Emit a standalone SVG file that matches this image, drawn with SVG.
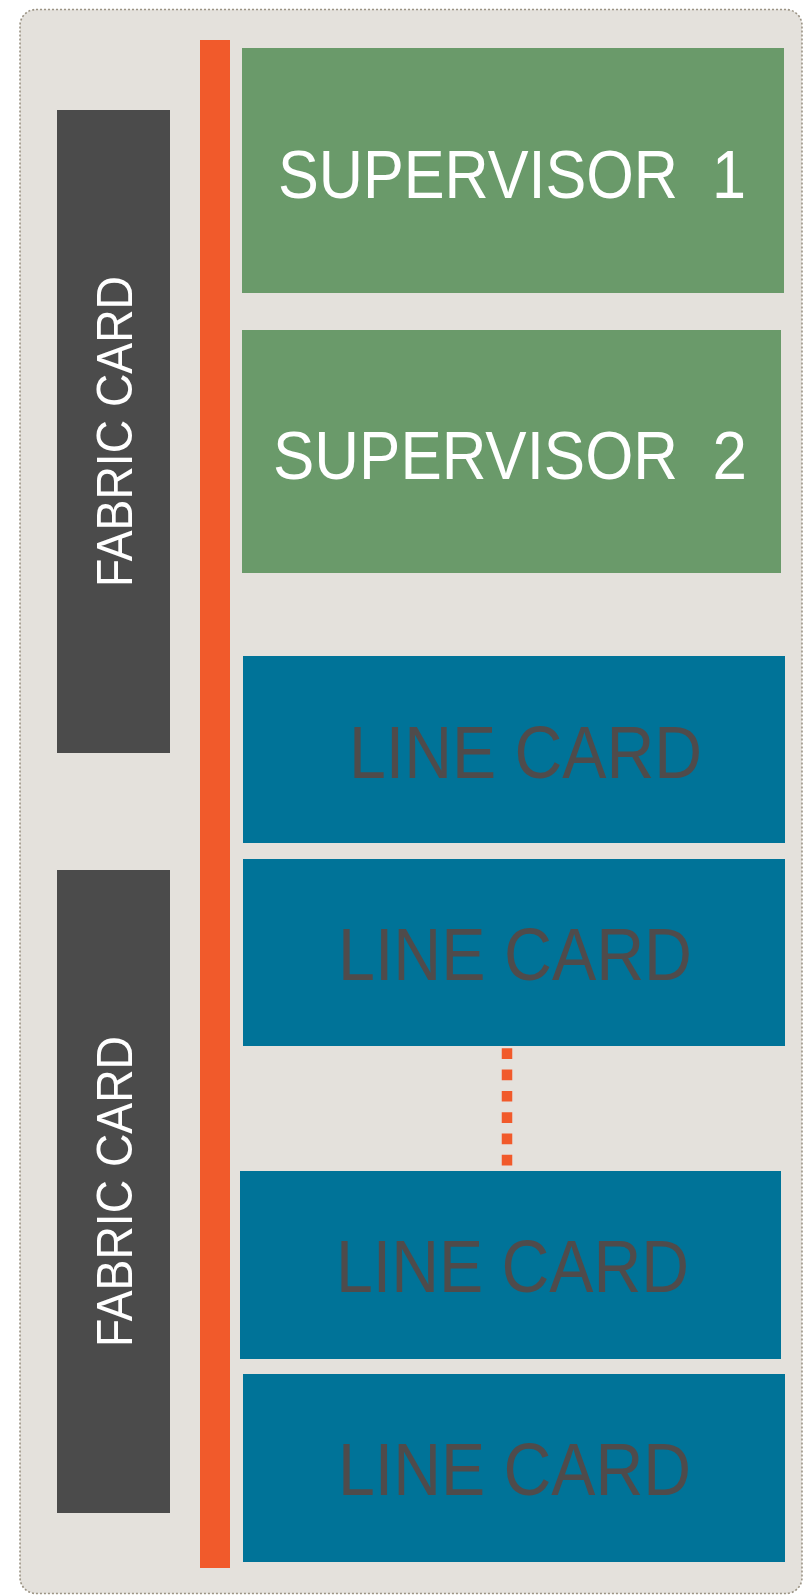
<svg xmlns="http://www.w3.org/2000/svg" width="805" height="1596" viewBox="0 0 805 1596">
  <style>
    .chassis { fill: #e4e1dc; stroke: #9b9384; stroke-width: 1.6; stroke-dasharray: 2 2; }
    .sup { fill: #6a9a6a; }
    .lc { fill: #007398; }
    .fab { fill: #4b4b4b; }
    .bus { fill: #f15a2b; }
    .lbl { font-family: "Liberation Sans", Arial, sans-serif; text-anchor: middle; white-space: pre; }
    .white { fill: #ffffff; }
    .dark { fill: #4f4b4b; }
    .dots { stroke: #f15a2b; stroke-width: 10.5; stroke-dasharray: 10.7 10.6; fill: none; }
  </style>

  <!-- chassis outline -->
  <rect class="chassis" x="20" y="9.5" width="782" height="1584" rx="16" ry="16"/>

  <!-- backplane bar -->
  <g id="backplane">
    <rect class="bus" x="200" y="40" width="30" height="1528"/>
  </g>

  <!-- fabric cards -->
  <g id="fabric-card-1">
    <rect class="fab" x="57" y="110" width="113" height="643"/>
    <text class="lbl white" font-size="50" textLength="311" lengthAdjust="spacingAndGlyphs" transform="translate(132 431.5) rotate(-90)">FABRIC CARD</text>
  </g>
  <g id="fabric-card-2">
    <rect class="fab" x="57" y="870" width="113" height="643"/>
    <text class="lbl white" font-size="50" textLength="311" lengthAdjust="spacingAndGlyphs" transform="translate(132 1191.5) rotate(-90)">FABRIC CARD</text>
  </g>

  <!-- supervisors -->
  <g id="supervisor-1">
    <rect class="sup" x="242" y="48" width="542" height="245"/>
    <text class="lbl white" x="512" y="198" font-size="69" xml:space="preserve" textLength="468" lengthAdjust="spacingAndGlyphs">SUPERVISOR  1</text>
  </g>
  <g id="supervisor-2">
    <rect class="sup" x="242" y="330" width="539" height="243"/>
    <text class="lbl white" x="510" y="479" font-size="69" xml:space="preserve" textLength="474" lengthAdjust="spacingAndGlyphs">SUPERVISOR  2</text>
  </g>

  <!-- line cards -->
  <g id="line-card-1">
    <rect class="lc" x="243" y="656" width="542" height="187"/>
    <text class="lbl dark" x="525.5" y="778" font-size="74" textLength="353" lengthAdjust="spacingAndGlyphs">LINE CARD</text>
  </g>
  <g id="line-card-2">
    <rect class="lc" x="243" y="859" width="542" height="187"/>
    <text class="lbl dark" x="515" y="980" font-size="74" textLength="354" lengthAdjust="spacingAndGlyphs">LINE CARD</text>
  </g>
  <g id="line-card-3">
    <rect class="lc" x="240" y="1171" width="541" height="188"/>
    <text class="lbl dark" x="512.5" y="1292" font-size="74" textLength="353" lengthAdjust="spacingAndGlyphs">LINE CARD</text>
  </g>
  <g id="line-card-4">
    <rect class="lc" x="243" y="1374" width="542" height="188"/>
    <text class="lbl dark" x="514.5" y="1495" font-size="74" textLength="353" lengthAdjust="spacingAndGlyphs">LINE CARD</text>
  </g>

  <!-- continuation between line cards -->
  <g id="connectors">
    <line class="dots" x1="507" y1="1048.3" x2="507" y2="1166"/>
  </g>
</svg>
